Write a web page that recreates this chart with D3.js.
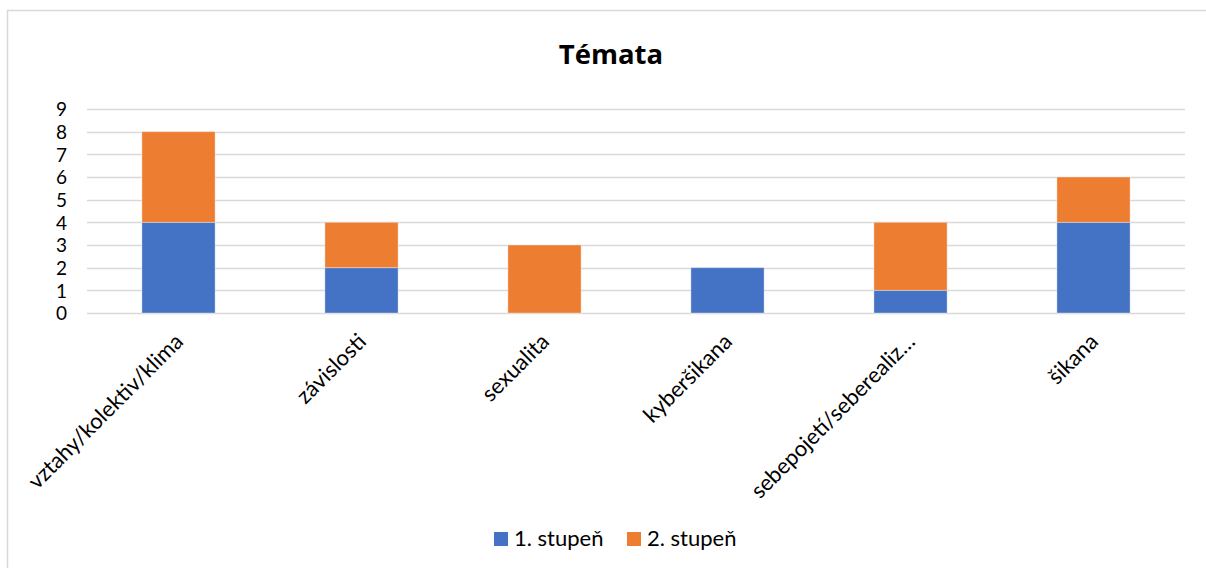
<!DOCTYPE html>
<html>
<head>
<meta charset="utf-8">
<script src="https://cdn.jsdelivr.net/npm/d3@7"></script>
<style>
  html, body { margin: 0; padding: 0; background: #fff; }
  svg { display: block; font-family: Lato, "Open Sans", sans-serif; }
</style>
</head>
<body>
<div id="chart"></div>
<script>
// data
const categories = ['vztahy/kolektiv/klima', 'závislosti', 'sexualita', 'kyberšikana', 'sebepojetí/seberealiz…', 'šikana'];
const seriesNames = ['1. stupeň', '2. stupeň'];
const stupen1 = [4, 2, 0, 2, 1, 4];
const stupen2 = [4, 2, 3, 0, 3, 2];
const yTicks = [0, 1, 2, 3, 4, 5, 6, 7, 8, 9];
const colors = ['#4472C4', '#ED7D31'];

const width = 1206;
const height = 568;
const margin = {top: 109, right: 21, bottom: 255, left: 87};

const svg = d3.select('#chart').append('svg')
  .attr('width', width)
  .attr('height', height);

// chart area border
svg.append('rect')
  .attr('x', 7.5).attr('y', 10.5)
  .attr('width', width).attr('height', height)
  .attr('fill', '#fff')
  .attr('stroke', '#D9D9D9')
  .attr('stroke-width', 1.5);

svg.append('text')
  .attr('x', 611).attr('y', 64)
  .attr('text-anchor', 'middle')
  .attr('font-family', '"Open Sans", sans-serif')
  .attr('font-size', 27.5)
  .attr('font-weight', 'bold')
  .attr('fill', '#000')
  .text('Témata');

const x = d3.scaleBand()
  .domain(categories)
  .range([margin.left, width - margin.right])
  .paddingInner(0.6)
  .paddingOuter(0.3);

const y = d3.scaleLinear()
  .domain([0, 9])
  .range([height - margin.bottom, margin.top]);

// gridlines
svg.append('g')
  .selectAll('line')
  .data(yTicks)
  .join('line')
  .attr('x1', margin.left)
  .attr('x2', width - margin.right)
  .attr('y1', d => Math.round(y(d)) + 0.5)
  .attr('y2', d => Math.round(y(d)) + 0.5)
  .attr('stroke', '#D9D9D9')
  .attr('stroke-width', 1.5);

const rows = categories.map((c, i) => ({cat: c, s0: stupen1[i], s1: stupen2[i]}));
const stacked = d3.stack().keys(['s0', 's1'])(rows);

svg.append('g')
  .selectAll('g')
  .data(stacked)
  .join('g')
  .attr('fill', (d, i) => colors[i])
  .selectAll('rect')
  .data(d => d.filter(p => p[1] > p[0]))
  .join('rect')
  .attr('x', d => x(d.data.cat))
  .attr('width', x.bandwidth())
  .attr('y', d => y(d[1]))
  .attr('height', d => y(d[0]) - y(d[1]))
  .attr('stroke', 'rgba(255,255,255,0.35)')
  .attr('stroke-width', 1);

// y axis labels
const yAxis = svg.append('g')
  .attr('transform', `translate(${margin.left - 20},0)`)
  .call(d3.axisLeft(y).tickValues(yTicks).tickSize(0).tickPadding(0));
yAxis.select('.domain').remove();
yAxis.selectAll('text')
  .attr('font-size', 19)
  .attr('font-family', 'Lato, sans-serif')
  .attr('fill', '#000')
  .attr('dy', '0.36em');

// x axis labels, rotated
const xAxis = svg.append('g')
  .attr('transform', `translate(0,${height - margin.bottom})`)
  .call(d3.axisBottom(x).tickSize(0).tickPadding(0));
xAxis.select('.domain').remove();
xAxis.selectAll('text')
  .attr('font-size', 22)
  .attr('font-family', 'Lato, sans-serif')
  .attr('fill', '#000')
  .attr('text-anchor', 'end')
  .attr('dy', null)
  .attr('y', 0)
  .attr('transform', 'translate(6,30) rotate(-45)');

// legend
const legend = svg.append('g').attr('transform', 'translate(494,532)');
const legendX = [0, 133];
seriesNames.forEach((name, i) => {
  const g = legend.append('g').attr('transform', `translate(${legendX[i]},0)`);
  g.append('rect').attr('width', 14).attr('height', 14).attr('fill', colors[i]);
  g.append('text')
    .attr('x', 20).attr('y', 14)
    .attr('font-size', 22)
    .attr('fill', '#000')
    .text(name);
});
</script>
</body>
</html>
